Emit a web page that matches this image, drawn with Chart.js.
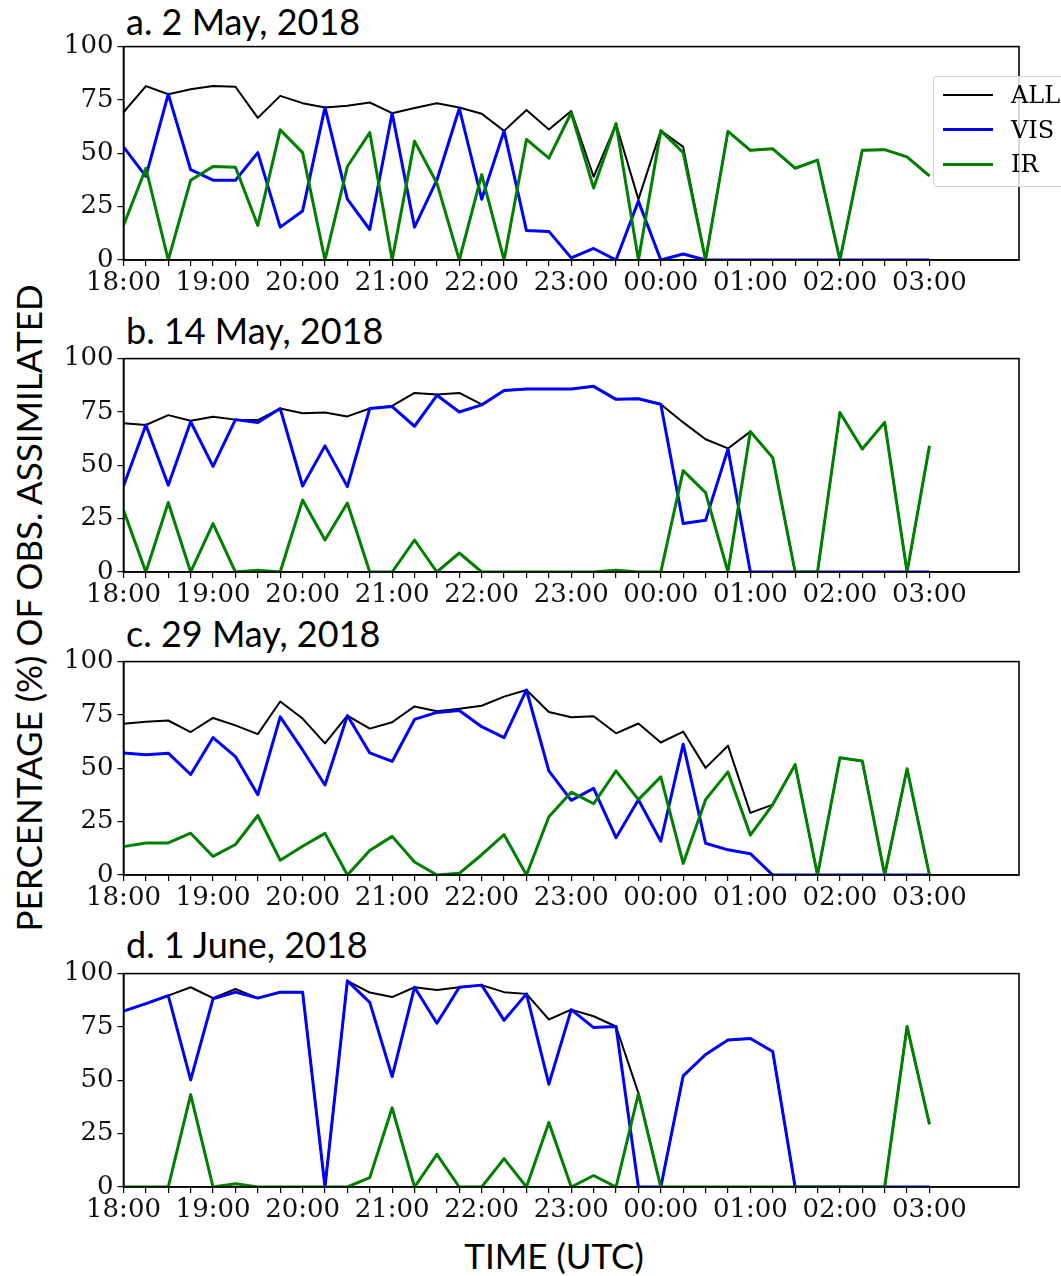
<!DOCTYPE html>
<html>
<head>
<meta charset="utf-8">
<script src="https://cdn.jsdelivr.net/npm/chart.js@4.4.1/dist/chart.umd.min.js"></script>
<style>
  body { margin: 0; background: #fff; width: 1061px; height: 1276px; position: relative; overflow: hidden; }
  canvas { position: absolute; left: 0; }
  .title { position: absolute; left: 126px; font-family: Lato, sans-serif; font-size: 36px; line-height: 36px; color: #000; white-space: nowrap; }
  .ylabel { position: absolute; left: 28px; top: 608px; font-family: Lato, sans-serif; font-size: 35px; line-height: 35px; white-space: nowrap;
            transform: translate(-50%, -50%) rotate(-90deg); }
  .xlabel { position: absolute; left: 554px; top: 1238px; font-family: Lato, sans-serif; font-size: 35px; line-height: 35px; white-space: nowrap;
            transform: translateX(-50%); }
  #legend { position: absolute; left: 933px; top: 76px; width: 150px; height: 109px; border: 1px solid #d4d4d4; border-radius: 3px;
            background: rgba(255,255,255,0.8); z-index: 5; }
  .lg-row { position: absolute; left: 0; width: 150px; height: 34px; }
  .lg-line { position: absolute; left: 9px; width: 50px; top: 50%; }
  .lg-text { position: absolute; left: 77px; top: 0; line-height: 34px; font-family: "DejaVu Serif", serif; font-size: 24px; color: #000; }
</style>
</head>
<body>

<div class="title" style="top:3px">a. 2 May, 2018</div>
<div class="title" style="top:312px">b. 14 May, 2018</div>
<div class="title" style="top:615px">c. 29 May, 2018</div>
<div class="title" style="top:926px">d. 1 June, 2018</div>
<div class="ylabel">PERCENTAGE (%) OF OBS. ASSIMILATED</div>
<div class="xlabel">TIME (UTC)</div>

<div id="legend"></div>

<script>
// ---- time slots (every 15 min) ----
const slots = ["18:00","18:15","18:30","18:45","19:00","19:15","19:30","19:45",
               "20:00","20:15","20:30","20:45","21:00","21:15","21:30","21:45",
               "22:00","22:15","22:30","22:45","23:00","23:15","23:30","23:45",
               "00:00","00:15","00:30","00:45","01:00","01:15","01:30","01:45",
               "02:00","02:15","02:30","02:45","03:00"];
const hourLabels = ["18:00","19:00","20:00","21:00","22:00","23:00","00:00","01:00","02:00","03:00"];
const axisEnd = "04:00";
const yTicks = [0, 25, 50, 75, 100];

// ---- a. 2 May, 2018 ----
const allA = [69.2, 81.5, 77.7, 80, 81.5, 81.2, 66.6, 76.9, 73.5, 71.5, 72.3, 73.8, 68.8, 71.2, 73.5, 71.5, 68.5, 60.5,
              70.3, 61.2, 69.8, 39, 63.7, 28.4, 60.6, 53, 0, 60.3, 51.4, 52.1, 43, 46.8, 0, 51.4, 51.7, 48.3, 39.4];
const visA = [53, 39.2, 77.7, 42.3, 37.4, 37.4, 50.3, 15.4, 23, 71.5, 28.5, 14.3, 68.8, 15.4, 37.5, 71, 28.5, 60.5,
              13.8, 13.4, 1, 5.4, 0, 27.6, 0, 2.8, 0, 0, 0, 0, 0, 0, 0, 0, 0, 0, 0];
const irA  = [16.2, 43, 0, 37.4, 43.8, 43.5, 16.2, 61, 50.3, 0, 43.8, 59.7, 0, 55.7, 36, 0, 40, 0,
              56.5, 47.7, 69, 33.7, 64, 0, 60.6, 50.3, 0, 60.3, 51.4, 52.1, 43, 46.8, 0, 51.4, 51.7, 48.3, 39.4];

// ---- b. 14 May, 2018 ----
const allB = [69.7, 68.9, 73.5, 70.9, 72.7, 71.4, 71.2, 76.6, 74.4, 74.7, 72.9, 76.6, 77.8, 83.9, 83.2, 83.9, 78.6, 85,
              85.8, 85.8, 85.8, 87, 80.9, 81.2, 78.6, 70.1, 62.2, 57.9, 65.8, 53.6, 0, 0, 74.7, 57.6, 70.1, 0, 59.1];
const visB = [40.3, 68.9, 40.7, 70.4, 49.5, 71.4, 70.1, 76.6, 40.3, 59.1, 40, 76.6, 77.5, 68.3, 82.8, 75, 78.3, 85,
              85.8, 85.8, 85.8, 87, 80.9, 81.2, 78.6, 22.7, 24.2, 57.6, 0, 0, 0, 0, 0, 0, 0, 0, 0];
const irB  = [29, 0, 32.6, 0, 22.7, 0, 0.8, 0, 33.7, 15, 32.3, 0, 0, 15, 0, 8.9, 0, 0,
              0, 0, 0, 0, 0.8, 0, 0, 47.5, 37.2, 0, 65.8, 53.6, 0, 0, 74.7, 57.6, 70.1, 0, 59.1];

// ---- c. 29 May, 2018 ----
const allC = [70.9, 71.8, 72.4, 67, 73.6, 70.1, 66, 81.3, 73.3, 61.7, 74.7, 68.6, 71.6, 79, 76.7, 77.9, 79.3, 83.6,
              86.7, 76.4, 73.9, 74.4, 66.4, 71, 62.1, 67.2, 50.2, 60.6, 29.1, 33, 51.7, 0, 54.9, 53.4, 0, 49.8, 0];
const visC = [57.2, 56.4, 57.1, 47.1, 64.4, 55.5, 37.6, 74.1, 58.6, 42.2, 74.7, 57.2, 53.2, 72.9, 76.2, 77.1, 69.5, 64.4,
              86.7, 48.8, 35, 40.6, 17.5, 35.3, 15.8, 61.3, 14.9, 11.8, 10, 0, 0, 0, 0, 0, 0, 0, 0];
const irC  = [13.3, 15, 15, 19.6, 8.7, 14.3, 27.9, 6.9, 13.5, 19.5, 0, 11.5, 18.1, 6.1, 0, 0.8, 9.5, 18.9,
              0, 27.3, 38.8, 33.4, 48.8, 35.3, 46, 5.4, 35.3, 48.3, 18.7, 33, 51.7, 0, 54.9, 53.4, 0, 49.8, 0];

// ---- d. 1 June, 2018 ----
const allD = [82.4, 85.9, 89.7, 93.6, 88.5, 92.8, 88.5, 91.3, 91.3, 0, 96.6, 91.1, 89, 93.6, 92.3, 93.6, 94.6, 91.3,
              90.5, 78.5, 83.1, 80, 75.2, 44, 0, 52.1, 62.1, 68.9, 69.6, 63.5, 0, 0, 0, 0, 0, 75.2, 29.4];
const visD = [82.4, 85.9, 89.7, 50.2, 88.2, 91.3, 88.5, 91.3, 91.3, 0, 96.6, 86.5, 51.7, 93.6, 76.7, 93.6, 94.6, 78.1,
              90.5, 48.2, 83.1, 74.7, 75.2, 0, 0, 52.1, 62.1, 68.9, 69.6, 63.5, 0, 0, 0, 0, 0, 0, 0];
const irD  = [0, 0, 0, 43.3, 0, 1.5, 0, 0, 0, 0, 0, 4.4, 37.1, 0, 15.3, 0, 0, 13.3,
              0, 30.2, 0, 5.4, 0, 43.7, 0, 0, 0, 0, 0, 0, 0, 0, 0, 0, 0, 75.2, 29.4];

const seriesNames = ["ALL", "VIS", "IR"];
const seriesColors = ["#000000", "#0000ff", "#008000"];
const seriesWidths = [2, 3, 3];

// hours after 18:00
function toHours(s) {
  const [h, m] = s.split(":").map(Number);
  return ((h - 18 + 24) % 24) + m / 60;
}

// box around the plot area (top and right sides too)
const frame = {
  id: "frame",
  afterDraw(chart) {
    const { ctx, chartArea: a } = chart;
    ctx.save();
    ctx.strokeStyle = "#000";
    ctx.lineWidth = 1.6;
    ctx.strokeRect(a.left, a.top, a.right - a.left, a.bottom - a.top);
    ctx.restore();
  }
};

const panels = [
  { top: 43,  data: [allA, visA, irA] },
  { top: 355, data: [allB, visB, irB] },
  { top: 658, data: [allC, visC, irC] },
  { top: 970, data: [allD, visD, irD] }
];

const PAD_TOP = 16, PLOT_H = 217, XAXIS_H = 45, LEFT = 123.5, RIGHT = 1019;
const tickFont = { family: "'DejaVu Serif', serif", size: 26 };

panels.forEach(p => {
  const canvas = document.createElement("canvas");
  canvas.width = 1061;
  canvas.height = PAD_TOP + PLOT_H + XAXIS_H;
  canvas.style.top = (p.top - PAD_TOP) + "px";
  document.body.insertBefore(canvas, document.getElementById("legend"));

  new Chart(canvas, {
    type: "line",
    data: {
      datasets: p.data.map((vals, k) => ({
        label: seriesNames[k],
        data: vals.map((v, i) => ({ x: toHours(slots[i]), y: v })),
        borderColor: seriesColors[k],
        borderWidth: seriesWidths[k],
        pointRadius: 0,
        tension: 0,
        borderJoinStyle: "round",
        order: 3 - k
      }))
    },
    options: {
      responsive: false,
      animation: false,
      layout: { padding: { top: PAD_TOP, left: 0, right: 1061 - RIGHT, bottom: 0 } },
      plugins: { legend: { display: false }, tooltip: { enabled: false } },
      scales: {
        x: {
          type: "linear",
          min: 0,
          max: toHours(axisEnd),
          afterBuildTicks: s => { s.ticks = slots.map(t => ({ value: toHours(t) })); },
          afterFit: s => { s.height = XAXIS_H; },
          ticks: {
            autoSkip: false,
            maxRotation: 0,
            padding: 2,
            color: "#111",
            font: tickFont,
            callback: v => (Math.abs(v - Math.round(v)) < 1e-6 ? hourLabels[Math.round(v)] : "")
          },
          grid: { drawOnChartArea: false, drawTicks: true, tickLength: 6, color: "#000", lineWidth: 1.2 },
          border: { display: true, color: "#000", width: 1.6 }
        },
        y: {
          min: 0,
          max: 100,
          afterBuildTicks: s => { s.ticks = yTicks.map(v => ({ value: v })); },
          afterFit: s => { s.width = LEFT; },
          ticks: { padding: 4, color: "#111", font: tickFont },
          grid: { drawOnChartArea: false, drawTicks: true, tickLength: 6, color: "#000", lineWidth: 1.2 },
          border: { display: true, color: "#000", width: 1.6 }
        }
      }
    },
    plugins: [frame]
  });
});

// legend (panel a)
const legend = document.getElementById("legend");
seriesNames.forEach((name, k) => {
  const row = document.createElement("div");
  row.className = "lg-row";
  row.style.top = (1 + k * 34.5) + "px";
  row.innerHTML = `<div class="lg-line" style="height:${seriesWidths[k]}px;margin-top:${-seriesWidths[k] / 2}px;background:${seriesColors[k]}"></div>
                   <div class="lg-text">${name}</div>`;
  legend.appendChild(row);
});
</script>
</body>
</html>
